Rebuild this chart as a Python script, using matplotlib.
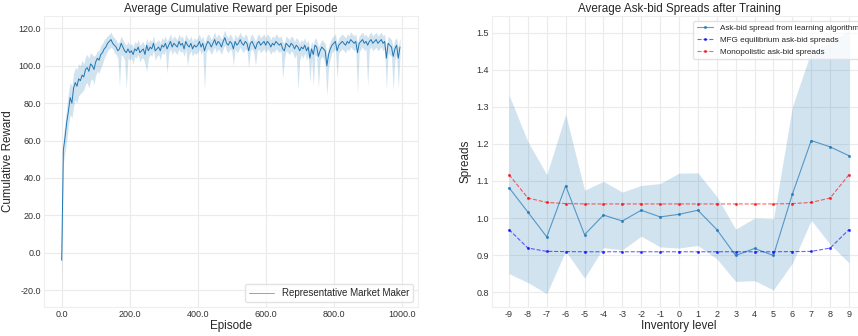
import matplotlib
matplotlib.use("Agg")
import matplotlib.pyplot as plt
from matplotlib.ticker import FormatStrFormatter

plt.style.use("seaborn-v0_8-whitegrid")
plt.rcParams["font.family"] = ["Liberation Sans", "DejaVu Sans"]
plt.rcParams["axes.unicode_minus"] = False

# ---- Left panel: cumulative reward, sampled every 5 episodes ----
episodes = list(range(0, 1000, 5))

reward_mean = [
    -4, 55, 62, 70, 76, 83, 80, 88, 91, 89, 93, 92, 95, 94, 98, 99, 97, 101, 100, 98,
    102, 104, 103, 106, 107, 109, 110, 112, 113, 114, 112, 111, 110, 108, 109, 112, 110, 108, 107, 109,
    107, 108, 106, 109, 108, 110, 107, 108, 109, 106, 111, 108, 110, 109, 112, 108, 109, 110, 108, 111,
    110, 112, 109, 111, 113, 110, 112, 111, 110, 113, 111, 112, 109, 113, 111, 110, 112, 109, 111, 110,
    111, 113, 110, 112, 108, 111, 113, 112, 110, 112, 114, 111, 113, 112, 110, 113, 115, 112, 111, 113,
    112, 109, 113, 111, 112, 114, 112, 111, 113, 112, 108, 112, 113, 111, 109, 112, 113, 111, 112, 113,
    111, 113, 112, 110, 112, 111, 113, 112, 111, 112, 109, 108, 112, 111, 110, 112, 111, 109, 111, 110,
    108, 110, 109, 111, 108, 110, 104, 109, 106, 111, 110, 105, 108, 110, 109, 108, 100, 106, 109, 111,
    112, 113, 108, 111, 112, 113, 112, 111, 113, 112, 114, 113, 112, 113, 107, 112, 113, 114, 112, 113,
    111, 113, 114, 112, 113, 114, 112, 113, 114, 112, 113, 104, 112, 111, 110, 105, 109, 111, 104, 110,
]

reward_low = [
    -22, 48, 54, 60, 68, 74, 72, 78, 82, 80, 84, 85, 86, 87, 90, 91, 88, 92, 93, 90,
    95, 97, 96, 99, 101, 104, 106, 108, 109, 110, 109, 107, 106, 104, 89, 106, 105, 103, 88, 104,
    103, 104, 101, 105, 104, 106, 102, 104, 104, 101, 97, 104, 106, 105, 108, 103, 105, 106, 103, 107,
    106, 108, 96, 107, 109, 106, 108, 107, 106, 109, 107, 108, 105, 109, 100, 106, 108, 105, 107, 106,
    107, 109, 106, 108, 87, 107, 109, 108, 106, 108, 110, 107, 109, 108, 106, 109, 111, 108, 107, 109,
    108, 100, 109, 107, 108, 110, 108, 107, 109, 108, 99, 108, 109, 107, 100, 108, 109, 107, 108, 109,
    107, 109, 108, 106, 108, 107, 109, 108, 107, 108, 93, 103, 108, 107, 106, 108, 107, 104, 106, 87,
    103, 106, 104, 107, 103, 106, 91, 104, 89, 106, 105, 88, 103, 105, 104, 100, 84, 99, 104, 107,
    108, 109, 93, 107, 108, 109, 108, 107, 109, 108, 110, 109, 108, 109, 85, 107, 109, 110, 108, 109,
    89, 109, 110, 108, 109, 110, 108, 109, 110, 108, 109, 87, 107, 106, 105, 87, 103, 106, 88, 105,
]

reward_high = [
    14, 62, 70, 78, 86, 91, 89, 96, 99, 98, 101, 100, 103, 101, 105, 106, 104, 107, 106, 105,
    106, 108, 108, 111, 112, 114, 115, 116, 117, 118, 116, 115, 114, 112, 113, 116, 114, 112, 111, 113,
    111, 112, 110, 113, 112, 114, 111, 112, 113, 110, 115, 112, 114, 113, 116, 112, 113, 114, 112, 115,
    114, 116, 113, 115, 117, 114, 116, 115, 114, 117, 115, 116, 113, 117, 115, 114, 116, 113, 115, 114,
    115, 117, 114, 116, 112, 115, 117, 116, 114, 116, 118, 115, 117, 116, 114, 117, 119, 116, 115, 117,
    116, 113, 117, 115, 116, 118, 116, 115, 117, 116, 112, 116, 117, 115, 113, 116, 117, 115, 116, 117,
    115, 117, 116, 114, 116, 115, 117, 116, 115, 116, 113, 112, 116, 115, 114, 116, 115, 113, 115, 114,
    112, 114, 113, 115, 112, 114, 109, 113, 111, 115, 114, 110, 112, 114, 113, 112, 106, 110, 113, 115,
    116, 117, 112, 115, 116, 117, 116, 115, 117, 116, 118, 117, 116, 117, 112, 116, 117, 118, 116, 117,
    115, 117, 118, 116, 117, 118, 116, 117, 118, 116, 117, 109, 116, 115, 114, 110, 114, 115, 110, 115,
]

# ---- Right panel: spreads by inventory level ----
inventory = list(range(-9, 10))
learned_spread = [1.082, 1.016, 0.949, 1.087, 0.955, 1.008, 0.992, 1.021, 1.003, 1.010,
                  1.021, 0.969, 0.899, 0.918, 0.899, 1.064, 1.209, 1.192, 1.168]
learned_low = [0.850, 0.826, 0.796, 0.911, 0.838, 0.920, 0.914, 0.951, 0.922, 0.919,
               0.926, 0.890, 0.829, 0.831, 0.806, 0.878, 0.994, 0.929, 0.879]
learned_high = [1.332, 1.206, 1.117, 1.280, 1.075, 1.099, 1.070, 1.088, 1.093, 1.121,
                1.122, 1.058, 0.970, 1.000, 0.998, 1.300, 1.450, 1.472, 1.507]
mfg_spread = [0.969, 0.919, 0.910, 0.9095, 0.909, 0.909, 0.909, 0.909, 0.909, 0.909,
              0.909, 0.909, 0.909, 0.909, 0.909, 0.9095, 0.910, 0.919, 0.969]
mono_spread = [1.117, 1.054, 1.042, 1.039, 1.038, 1.038, 1.038, 1.038, 1.038, 1.038,
               1.038, 1.038, 1.038, 1.038, 1.038, 1.039, 1.042, 1.054, 1.117]

W, H = 858, 336
fig = plt.figure(figsize=(W / 100, H / 100), dpi=100)

ax1 = fig.add_axes([44 / W, 29 / H, 374 / W, 291 / H])
ax2 = fig.add_axes([492 / W, 29 / H, 374 / W, 291 / H])

blue = "#1f77b4"
text_col = "#262626"
title_fs = 8.4

ax1.fill_between(episodes, reward_low, reward_high, color=blue, alpha=0.2, lw=0)
ax1.plot(episodes, reward_mean, color=blue, lw=0.7, label="Representative Market Maker")
ax1.set_xlim(-52, 1048)
ax1.set_ylim(-29, 126.6)
ax1.set_xticks([0, 200, 400, 600, 800, 1000])
ax1.set_yticks([-20, 0, 20, 40, 60, 80, 100, 120])
ax1.xaxis.set_major_formatter(FormatStrFormatter("%.1f"))
ax1.yaxis.set_major_formatter(FormatStrFormatter("%.1f"))
ax1.set_title("Average Cumulative Reward per Episode", fontsize=title_fs, pad=3, color=text_col)
ax1.set_xlabel("Episode", fontsize=title_fs, labelpad=1, color=text_col)
ax1.set_ylabel("Cumulative Reward", fontsize=title_fs, color=text_col)
ax1.yaxis.set_label_coords(-0.08, 0.5)
leg1 = ax1.legend(loc="lower right", fontsize=7, frameon=True, fancybox=True,
                  framealpha=0.8, edgecolor="#dddddd", handlelength=2.6)
for line in leg1.get_lines():
    line.set_alpha(0.6)

ax2.fill_between(inventory, learned_low, learned_high, color=blue, alpha=0.2, lw=0)
ax2.plot(inventory, learned_spread, color=blue, lw=0.8, alpha=0.7, marker=".",
         markersize=2.5, label="Ask-bid spread from learning algorithm")
ax2.plot(inventory, mfg_spread, color="blue", lw=0.8, ls="--", alpha=0.6, marker=".",
         markersize=2.5, label="MFG equilibrium ask-bid spreads")
ax2.plot(inventory, mono_spread, color="red", lw=0.8, ls="--", alpha=0.6, marker=".",
         markersize=2.5, label="Monopolistic ask-bid spreads")
ax2.set_xlim(-9.9, 9.9)
ax2.set_ylim(0.76, 1.545)
ax2.set_xticks(inventory)
ax2.set_yticks([0.8, 0.9, 1.0, 1.1, 1.2, 1.3, 1.4, 1.5])
ax2.set_title("Average Ask-bid Spreads after Training", fontsize=title_fs, pad=3, color=text_col)
ax2.set_xlabel("Inventory level", fontsize=title_fs, labelpad=1, color=text_col)
ax2.set_ylabel("Spreads", fontsize=title_fs, color=text_col)
ax2.yaxis.set_label_coords(-0.055, 0.5)
ax2.legend(loc="upper right", bbox_to_anchor=(1.0, 0.997), fontsize=5.9, frameon=True,
           fancybox=True, framealpha=0.8, edgecolor="#dddddd")

for ax in (ax1, ax2):
    ax.tick_params(labelsize=6.5, colors="#333333", pad=2)
    ax.grid(True, color="#ebebeb", lw=0.8)
    for s in ax.spines.values():
        s.set_color("#eeeeee")
        s.set_linewidth(0.8)

fig.savefig("out.png", dpi=100)
